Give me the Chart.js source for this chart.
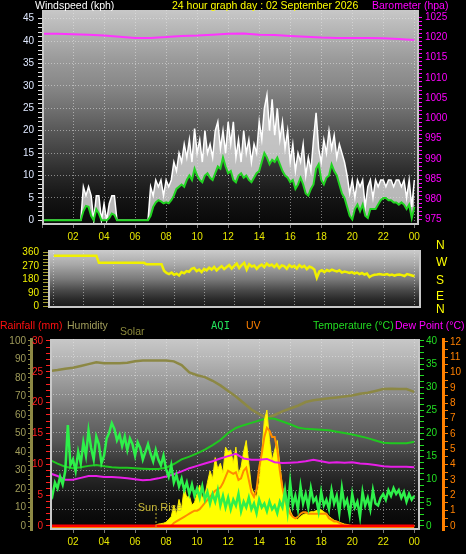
<!DOCTYPE html>
<html>
<head>
<meta charset="utf-8">
<script src="https://cdn.jsdelivr.net/npm/chart.js@4.4.1/dist/chart.umd.min.js"></script>
<style>
  body { margin: 0; background: #000; }
  #wrap { position: relative; width: 466px; height: 554px; overflow: hidden; background: #000;
          font-family: "Liberation Sans", Arial, sans-serif; }
  canvas { position: absolute; left: 0; }
  .t { position: absolute; font-size: 10.5px; line-height: 11px; white-space: nowrap; }
  .d { position: absolute; left: 436px; font-size: 12px; line-height: 12px; color: #ffff00; }
</style>
</head>
<body>
<div id="wrap">
  <canvas id="windChart" width="466" height="245" style="top:0"></canvas>
  <canvas id="dirChart" width="466" height="78" style="top:240px"></canvas>
  <canvas id="climateChart" width="466" height="236" style="top:318px"></canvas>

  <div class="t" style="left:35px;top:0;color:#ffffff">Windspeed (kph)</div>
  <div class="t" style="left:172px;top:0;color:#ffff00">24 hour graph day : 02 September 2026</div>
  <div class="t" style="left:372px;top:0;color:#ff00ff">Barometer (hpa)</div>

  <div class="d" style="top:238.5px">N</div>
  <div class="d" style="top:256px">W</div>
  <div class="d" style="top:273.5px">S</div>
  <div class="d" style="top:290px">E</div>
  <div class="d" style="top:303px">N</div>

  <div class="t" style="left:0;top:320px;color:#ff1010">Rainfall (mm)</div>
  <div class="t" style="left:67px;top:320px;color:#a09c5a">Humidity</div>
  <div class="t" style="left:120px;top:326px;color:#8c8a3c">Solar</div>
  <div class="t" style="left:211px;top:320px;color:#22e05a;font-family:'DejaVu Sans Mono',monospace">AQI</div>
  <div class="t" style="left:246px;top:320px;color:#ff8000">UV</div>
  <div class="t" style="left:313px;top:320px;color:#22dd22">Temperature (°C)</div>
  <div class="t" style="left:395px;top:320px;color:#ff00ff">Dew Point (°C)</div>
</div>

<script>
// sample spacing in hours
const step10min = 1 / 6;
const step30min = 0.5;
const step1h = 1;

// wind (kph), 10 minute samples
const windGust = [
  0,0,0,0,0,0,0,0,0,0,0,0,0,0,0,0,
  7.5,5.5,7.5,5.5,0,5.5,5.5,0,3.7,0,3.7,5.5,5.5,0,
  0,0,0,0,0,0,0,0,0,0,0,0,
  7.5,5.5,9,7.5,9,5.5,9,7.5,9,
  13,11,15,13,17,14,18,13,20.5,
  15,18,13,20,15,17,14,20,22,16,20,15,
  22,17,22,14,18,13,20,15,18,13,17,15,
  22,18,25,28,20,27,19,25,18,22,16,20,
  13,17,11,15,13,17,10,14,11,18,24,16,
  13,18,15,20,16,19,14,17,15,13,10,6,
  9,5,9,7.5,9,3,7.5,9,5,9,7.5,9,
  9,7.5,9,9,7.5,9,9,7.5,9,5,9,3,
  9
];
const windAvg = [
  0,0,0,0,0,0,0,0,0,0,0,0,0,0,0,0,
  2,3.2,3,1,0,2.5,1.5,0,0,0,0.5,1.5,1.2,0,
  0,0,0,0,0,0,0,0,0,0,0,0,
  1,3,4,4.5,4.2,3.8,4,3.8,4.5,
  5.5,7,7.5,8,7.5,9,10,9,11.5,
  10,9,8.5,10,10.5,9.5,9,10.5,12,11.5,14,12,
  10.5,11,9,8.5,10,10.5,9.5,10,9,8.5,9.5,10.5,
  11,13,15,14,12.5,13.5,13,14,12.5,11,10,9.5,
  8.5,9,7,8,9.5,8,6,5.5,7,8,11.5,12.5,
  9,8,9.5,10,12.5,11,10,8,6,5,3,1,
  0.2,2.5,3.5,2,3.5,1,0.5,2.5,2.5,2.5,3.5,4.5,
  5,5,4.5,4.5,4,4,3.5,4,3.5,2.5,3.5,0.5,
  3
];
// barometer (hpa), hourly
const barometer = [
  1020.9,1020.9,1020.8,1020.7,1020.5,1020.2,1019.9,1019.9,1020.1,1020.4,1020.5,1020.7,
  1020.9,1021.0,1020.7,1020.6,1020.4,1020.2,1020.0,1019.9,1019.9,1019.9,1019.8,1019.6,1019.4
];
// wind direction (degrees), 10 minute samples
const windDir = [
  337,337,337,337,337,337,337,337,337,337,337,337,337,337,337,337,337,337,
  290,290,290,290,290,290,290,290,290,290,290,290,290,290,290,290,290,290,290,
  280,280,280,280,280,280,280,
  237,222,215,225,210,218,205,
  228,220,235,230,250,255,235,245,228,
  250,240,258,245,262,240,255,268,248,262,275,252,
  270,285,255,275,290,245,280,265,272,250,268,278,
  262,285,270,278,262,280,255,272,268,250,275,262,
  270,252,275,260,270,248,265,258,245,190,232,240,
  228,242,235,245,238,232,240,225,232,228,222,228,
  218,225,215,222,212,218,195,205,210,212,215,212,
  210,215,208,212,205,210,212,208,202,215,210,205,
  200
];
// humidity (%), temperature and dew point (°C), half-hourly
const humidity = [
  83.5,83.8,84.3,85,85.5,86.5,87.5,88.5,88,88,88,88.3,89,89.5,89.5,89.5,89.5,89,87,83,
  81.5,80.5,78.5,76,73,70,66.5,63,60.5,58.5,60,62,63.5,65,67,68,68.5,69,69.5,70,
  70.5,71.5,72,73,74,74.2,74,74,72.5
];
const temperature = [
  14.5,14.3,13.5,12.8,12.5,12.7,13.0,13.2,12.9,12.7,12.6,12.6,12.5,12.4,12.3,12.3,12.6,13.4,14.4,15.0,
  15.7,16.5,17.5,18.6,20.1,21.2,21.8,22.3,22.8,23.3,23.2,22.6,22.0,21.3,21.0,20.9,20.8,20.7,20.4,20.1,
  19.8,19.4,19.0,18.5,18.0,17.9,17.9,17.9,18.2
];
const dewPoint = [
  11.5,11.4,10.8,10.0,10.0,10.4,10.8,10.8,10.6,10.6,10.5,10.3,10.1,9.9,10.0,10.3,10.7,11.2,11.8,12.5,
  13.0,13.5,14.0,14.6,15.1,15.6,14.6,14.3,14.3,14.5,13.8,13.6,13.7,13.8,14.0,14.3,14.0,13.7,13.8,13.7,
  13.8,13.5,13.4,13.2,12.9,12.8,12.8,12.8,12.7
];
// AQI, solar (W/m2) and UV index, 10 minute samples
const aqi = [
  22,19,25,20,17,24,21,27,23,30,
  54,33,36,30,40,34,45,38,51,42,36,48,
  44,34,38,47,50,55,52,46,49,43,48,41,
  47,44,38,45,42,36,40,44,39,35,41,36,
  33,38,31,27,33,24,28,22,26,20,24,18,
  23,17,21,16,22,15,19,13,18,14,20,12,
  17,11,16,10,15,12,18,9,14,11,16,10,
  13,8,15,11,13,9,14,10,12,8,14,11,
  20,9,24,12,17,10,22,13,18,11,21,14,
  16,9,19,12,15,10,20,13,17,8,21,12,
  15,7,18,11,14,6,19,12,16,10,20,13,
  12,16,18,15,20,17,21,18,20,16,19,14,
  18,15,17
];
const solar = [
  0,0,0,0,0,0,0,0,0,0,0,0,0,0,0,0,0,0,0,0,0,0,
  0,0,0,0,0,0,0,0,0,0,0,0,0,0,0,0,0,0,0,0,0,0,
  5,10,12,15,20,35,50,110,60,140,90,200,
  150,160,110,125,170,215,150,160,230,290,250,360,
  300,330,280,415,390,400,330,415,275,310,390,450,
  330,205,170,155,230,380,555,610,450,345,400,450,
  325,205,150,120,80,50,40,35,50,60,65,70,
  75,75,80,85,85,75,65,50,40,30,25,20,
  15,10,8,5,3,
  0,0,0,0,0,0,0,0,0,0,0,0,0,0,0,0,0,0,0,0,0,0,0,0
];
const uvIndex = [
  0,0,0,0,0,0,0,0,0,0,0,0,0,0,0,0,0,0,0,0,0,0,0,0,0,0,
  0,0,0,0,0,0,0,0,0,0,0,0,0,0,0,0,0,0,0,0,0,0,0,0,0,
  0.2,0.3,0.4,0.5,0.6,0.7,0.8,0.9,1.0,1.0,1.1,1.3,
  1.5,1.7,1.9,2.1,2.3,2.4,2.5,2.8,3.2,3.6,3.5,3.4,
  3.5,3.0,3.1,3.6,3.8,3.0,2.2,1.9,2.4,3.8,4.7,5.8,
  6.4,6.2,5.8,5.8,5.0,3.6,2.5,1.7,1.2,0.8,0.6,0.5,
  0.6,0.8,0.9,0.9,0.8,0.8,0.8,0.8,0.8,0.8,0.8,0.8,
  0.5,0.4,0.3,0.3,0.2,0.1,
  0,0,0,0,0,0,0,0,0,0,0,0,0,0,0,0,0,0,0,0,0,0,0,0,0,0,0,0
];
// rainfall (mm), hourly
const rainfall = [0,0,0,0,0,0,0,0,0,0,0,0,0,0,0,0,0,0,0,0,0,0,0,0,0];
const sunRiseHour = 7.35;

const FONT = '"Liberation Sans", Arial, sans-serif';
const GRID = 'rgba(235,235,235,0.5)';
Chart.defaults.font.family = FONT;
Chart.defaults.font.size = 10;

function toPoints(values, step) {
  return values.map((v, i) => ({ x: i * step, y: v }));
}

function hourLabel(v) {
  return v === 0 ? '' : String(v % 24).padStart(2, '0');
}

// keeps tick marks inside a value range
function keepTicks(lo, hi) {
  return s => { s.ticks = s.ticks.filter(t => t.value >= lo - 1e-9 && t.value <= hi + 1e-9); };
}

function hourAxis(min, max, showLabels) {
  return {
    type: 'linear', min: min, max: max,
    afterFit: s => { s.height = showLabels ? s.height : 0; },
    ticks: { stepSize: 2, includeBounds: false, autoSkip: false, maxRotation: 0,
             display: showLabels, color: '#e6e600', padding: 3, callback: hourLabel },
    grid: { color: GRID, tickLength: 3, tickColor: '#777', drawTicks: showLabels },
    border: { display: false, dash: [1, 2] }
  };
}

function sideAxis(o) {
  return {
    axis: 'y', position: o.position, weight: o.weight || 0, min: o.min, max: o.max,
    afterBuildTicks: keepTicks(o.lo, o.hi),
    afterFit: s => { s.width = o.width; },
    ticks: { stepSize: o.step, includeBounds: false, autoSkip: false, color: o.color,
             padding: o.padding, callback: v => (Math.abs(v % o.labelEvery) < 1e-9 ? v : '') },
    grid: { drawOnChartArea: !!o.gridLines,
            color: c => (c.tick && c.tick.value > 0 && Math.abs(c.tick.value % o.labelEvery) < 1e-9) ? GRID : 'transparent',
            tickColor: o.tickColor, tickLength: o.tickLength },
    border: o.borderColor ? { display: true, color: o.borderColor, width: 3, dash: [1, 2] }
                          : { display: false, dash: [1, 2] }
  };
}

const panelBackdrop = {
  id: 'panelBackdrop',
  beforeDraw(chart, args, opts) {
    const { ctx, chartArea: a } = chart;
    const g = ctx.createLinearGradient(0, a.top, 0, a.bottom);
    opts.stops.forEach(s => g.addColorStop(s[0], s[1]));
    ctx.save();
    ctx.fillStyle = g;
    ctx.fillRect(a.left, a.top, a.right - a.left, a.bottom - a.top);
    ctx.restore();
  },
  afterDraw(chart) {
    const { ctx, chartArea: a } = chart;
    ctx.save();
    ctx.strokeStyle = '#c8c8c8';
    ctx.lineWidth = 2;
    ctx.beginPath();
    ctx.moveTo(a.left + 1, a.top);
    ctx.lineTo(a.left + 1, a.bottom - 1);
    ctx.lineTo(a.right - 1, a.bottom - 1);
    ctx.lineTo(a.right - 1, a.top);
    ctx.stroke();
    ctx.restore();
  }
};

const sunRiseMarker = {
  id: 'sunRiseMarker',
  afterDatasetsDraw(chart) {
    const { ctx, chartArea: a } = chart;
    const x = chart.scales.x.getPixelForValue(sunRiseHour);
    ctx.save();
    ctx.strokeStyle = '#b8a830';
    ctx.lineWidth = 1;
    ctx.setLineDash([2, 2]);
    ctx.beginPath();
    ctx.moveTo(x, a.bottom - 17);
    ctx.lineTo(x, a.bottom);
    ctx.stroke();
    ctx.fillStyle = '#c8b838';
    ctx.font = '11px ' + FONT;
    ctx.textAlign = 'center';
    ctx.fillText('Sun Rise', x + 4, a.bottom - 19);
    ctx.restore();
  }
};

const common = {
  responsive: false,
  animation: false,
  events: [],
  elements: { point: { radius: 0 }, line: { tension: 0 } }
};

// wind speed + barometer
new Chart(document.getElementById('windChart'), {
  type: 'line',
  data: {
    datasets: [
      { label: 'Gust', data: toPoints(windGust, step10min), yAxisID: 'y', order: 1,
        borderColor: '#ffffff', borderWidth: 1.5, backgroundColor: 'rgba(225,225,225,0.8)', fill: '+1' },
      { label: 'Average', data: toPoints(windAvg, step10min), yAxisID: 'y', order: 0,
        borderColor: '#22d422', borderWidth: 2 },
      { label: 'Barometer', data: toPoints(barometer, step1h), yAxisID: 'y1', order: 0,
        borderColor: '#ff33ff', borderWidth: 2 }
    ]
  },
  options: Object.assign({}, common, {
    layout: { padding: { top: 10 } },
    plugins: {
      legend: { display: false }, tooltip: { enabled: false },
      panelBackdrop: { stops: [[0, '#c8c8c8'], [0.14, '#acacac'], [0.23, '#9a9a9a'], [0.35, '#888888'],
        [0.46, '#707070'], [0.56, '#585858'], [0.67, '#404040'], [0.77, '#282828'], [0.88, '#141414'], [1, '#080808']] }
    },
    scales: {
      x: Object.assign(hourAxis(0, 24.3, true), { afterFit: s => { s.height = 20; } }),
      y: sideAxis({ position: 'left', min: -1.05, max: 46.94, lo: 0, hi: 45, step: 1, labelEvery: 5,
        width: 42, color: '#dfe8ff', padding: 4, tickColor: '#e0e0e0', tickLength: 4, gridLines: true }),
      y1: sideAxis({ position: 'right', min: 973.64, max: 1026.8, lo: 975, hi: 1025, step: 1, labelEvery: 5,
        width: 47, color: '#ff00ff', padding: 3, tickColor: '#ff00ff', tickLength: 3 })
    }
  }),
  plugins: [panelBackdrop]
});

// wind direction
new Chart(document.getElementById('dirChart'), {
  type: 'line',
  data: {
    datasets: [
      { label: 'Direction', data: toPoints(windDir, step10min), yAxisID: 'y',
        borderColor: '#f0f000', borderWidth: 2.5 }
    ]
  },
  options: Object.assign({}, common, {
    layout: { padding: { top: 4, bottom: 6, right: 45 } },
    plugins: {
      legend: { display: false }, tooltip: { enabled: false },
      panelBackdrop: { stops: [[0, '#cccccc'], [0.25, '#a8a8a8'], [0.5, '#7a7a7a'], [0.7, '#484848'],
        [0.85, '#2a2a2a'], [1, '#181818']] }
    },
    scales: {
      x: hourAxis(-0.387, 24.43, false),
      y: sideAxis({ position: 'left', min: -11.4, max: 375.4, lo: 0, hi: 360, step: 22.5, labelEvery: 90,
        width: 48, color: '#f0f000', padding: 4, tickColor: '#a09a30', tickLength: 5 })
    }
  }),
  plugins: [panelBackdrop]
});

// rainfall, humidity, solar, AQI, UV, temperature, dew point
new Chart(document.getElementById('climateChart'), {
  type: 'line',
  data: {
    datasets: [
      { label: 'Rainfall', data: toPoints(rainfall, step1h), yAxisID: 'rain', order: 0,
        borderColor: '#ff0000', borderWidth: 3 },
      { label: 'AQI', data: toPoints(aqi, step10min), yAxisID: 'aqi', order: 1,
        borderColor: '#2ef04a', borderWidth: 2.5 },
      { label: 'Dew Point', data: toPoints(dewPoint, step30min), yAxisID: 'temp', order: 2,
        borderColor: '#e81ee8', borderWidth: 2 },
      { label: 'UV', data: toPoints(uvIndex, step10min), yAxisID: 'uv', order: 3,
        borderColor: '#ff8c00', borderWidth: 2 },
      { label: 'Solar', data: toPoints(solar, step10min), yAxisID: 'solar', order: 4,
        borderColor: '#ffee00', borderWidth: 1, backgroundColor: '#ffff00', fill: 'start' },
      { label: 'Temperature', data: toPoints(temperature, step30min), yAxisID: 'temp', order: 5,
        borderColor: '#20c820', borderWidth: 2 },
      { label: 'Humidity', data: toPoints(humidity, step30min), yAxisID: 'hum', order: 6,
        borderColor: '#8c8844', borderWidth: 2.5 }
    ]
  },
  options: Object.assign({}, common, {
    layout: { padding: { top: 21 } },
    plugins: {
      legend: { display: false }, tooltip: { enabled: false },
      panelBackdrop: { stops: [[0, '#c8c8c8'], [0.11, '#b4b4b4'], [0.21, '#9e9e9e'], [0.32, '#868686'],
        [0.42, '#6c6c6c'], [0.53, '#585858'], [0.63, '#3c3c3c'], [0.74, '#242424'], [0.84, '#121212'], [1, '#050505']] }
    },
    scales: {
      x: Object.assign(hourAxis(0.516, 24.37, true), { afterFit: s => { s.height = 24; } }),
      hum: sideAxis({ position: 'left', weight: 1, min: -2.16, max: 101.08, lo: 0, hi: 100, step: 2.5, labelEvery: 10,
        width: 31, color: '#a09c5a', padding: 2, tickColor: '#8c8844', tickLength: 3, borderColor: '#8c8844' }),
      rain: sideAxis({ position: 'left', weight: 0, min: -0.65, max: 30.32, lo: 0, hi: 30, step: 1, labelEvery: 5,
        width: 19, color: '#ff2020', padding: 3, tickColor: '#ff2020', tickLength: 4 }),
      temp: sideAxis({ position: 'right', weight: 0, min: -0.865, max: 40.43, lo: 0, hi: 40, step: 1.25, labelEvery: 5,
        width: 23, color: '#22dd22', padding: 2, tickColor: '#22dd22', tickLength: 4 }),
      aqi: sideAxis({ position: 'right', weight: 1, min: -0.8, max: 98.9, lo: 0, hi: 90, step: 10, labelEvery: 10,
        width: 0, color: '#99cc33', padding: 3, tickColor: 'transparent', tickLength: 5, gridLines: true }),
      uv: sideAxis({ position: 'right', weight: 2, min: -0.26, max: 12.18, lo: 0, hi: 12, step: 0.5, labelEvery: 1,
        width: 23, color: '#ff8000', padding: 2, tickColor: '#ff8000', tickLength: 5, borderColor: '#ff8000' }),
      solar: { axis: 'y', display: false, min: -21, max: 984 }
    }
  }),
  plugins: [panelBackdrop, sunRiseMarker]
});
</script>
</body>
</html>
